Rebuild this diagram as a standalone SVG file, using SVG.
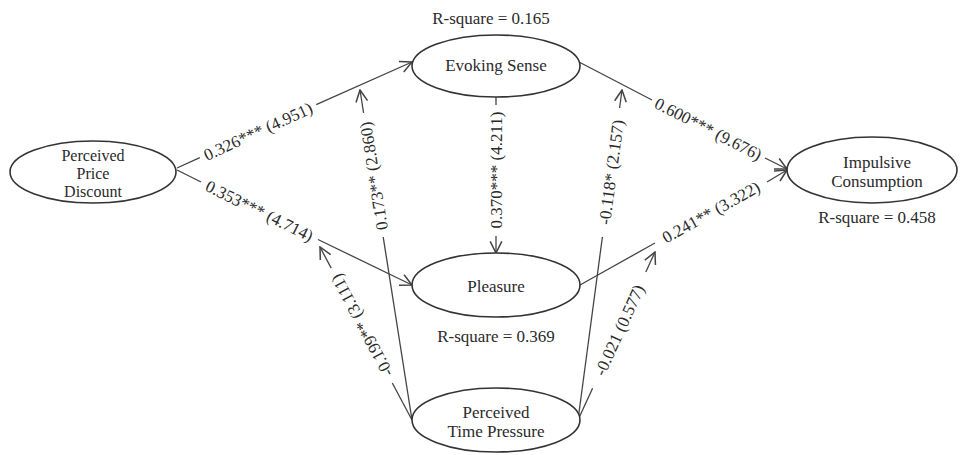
<svg xmlns="http://www.w3.org/2000/svg" width="961" height="455" viewBox="0 0 961 455">
<style>
.node ellipse{fill:#fff;stroke:#333;stroke-width:1.6}
text{font-family:"Liberation Serif","Times New Roman",serif;font-size:17px;fill:#2a2a2a;text-anchor:middle}
.conn line{stroke:#444;stroke-width:1.3;fill:none}
.lbl{font-size:17px}
.sm{font-size:16px}
</style>
<defs>
<marker id="arr" markerUnits="userSpaceOnUse" markerWidth="14" markerHeight="14" viewBox="0 0 12 12" refX="11" refY="6" orient="auto">
<path d="M1,1 L11,6 L1,11" fill="none" stroke="#444" stroke-width="1.3"/>
</marker>
</defs>
<rect width="961" height="455" fill="#fff"/>
<g id="connectors" class="conn">
<line x1="177" y1="168" x2="199.8" y2="157.7"/>
<line x1="316.2" y1="104.7" x2="412" y2="62" marker-end="url(#arr)"/>
<line x1="177" y1="170" x2="201" y2="182"/>
<line x1="318" y1="239.5" x2="412" y2="285" marker-end="url(#arr)"/>
<line x1="579" y1="62" x2="652" y2="100"/>
<line x1="765" y1="158" x2="787" y2="169" marker-end="url(#arr)"/>
<line x1="580" y1="285" x2="655" y2="243"/>
<line x1="767" y1="182" x2="787" y2="170" marker-end="url(#arr)"/>
<line x1="496" y1="97" x2="496" y2="105"/>
<line x1="496" y1="236" x2="496" y2="253" marker-end="url(#arr)"/>
<line x1="412" y1="420" x2="383.2" y2="237"/>
<line x1="363.6" y1="113" x2="360" y2="90" marker-end="url(#arr)"/>
<line x1="412" y1="420" x2="392.3" y2="383"/>
<line x1="331.2" y1="268.1" x2="320" y2="247" marker-end="url(#arr)"/>
<line x1="578" y1="420" x2="592.6" y2="388.2"/>
<line x1="645.8" y1="272" x2="655" y2="252" marker-end="url(#arr)"/>
<line x1="578" y1="420" x2="602.4" y2="237"/>
<line x1="619.6" y1="108" x2="622" y2="90" marker-end="url(#arr)"/>
<text class="lbl" transform="translate(258,131.2) rotate(-24.46)" dy="0.35em">0.326*** (4.951)</text>
<text class="lbl" transform="translate(259.5,210.7) rotate(26.27)" dy="0.35em">0.353*** (4.714)</text>
<text class="lbl" transform="translate(708.4,128.8) rotate(27.1)" dy="0.35em">0.600*** (9.676)</text>
<text class="lbl" transform="translate(711,212) rotate(-29.06)" dy="0.35em">0.241** (3.322)</text>
<text class="lbl" transform="translate(496,170) rotate(-90)" dy="0.35em">0.370*** (4.211)</text>
<text class="lbl" transform="translate(373.5,176) rotate(-99)" dy="0.35em">0.173** (2.860)</text>
<text class="lbl" transform="translate(361.8,325.5) rotate(-118)" dy="0.35em">-0.199** (3.111)</text>
<text class="lbl" transform="translate(619.2,330) rotate(-65.4)" dy="0.35em">-0.021 (0.577)</text>
<text class="lbl" transform="translate(611,172.2) rotate(-82.4)" dy="0.35em">-0.118* (2.157)</text>
</g>
<g id="node-ppd" class="node">
<ellipse cx="93" cy="172" rx="83" ry="31"/>
<text class="sm" x="93" y="161">Perceived</text>
<text class="sm" x="93" y="179">Price</text>
<text class="sm" x="93" y="197">Discount</text>
</g>
<g id="node-es" class="node">
<ellipse cx="496" cy="66" rx="84" ry="31"/>
<text x="496" y="71">Evoking Sense</text>
<text x="491" y="24">R-square = 0.165</text>
</g>
<g id="node-pl" class="node">
<ellipse cx="496" cy="285" rx="84" ry="32"/>
<text x="496" y="292">Pleasure</text>
<text x="496" y="342">R-square = 0.369</text>
</g>
<g id="node-ptp" class="node">
<ellipse cx="496" cy="420" rx="84" ry="32"/>
<text x="496" y="418">Perceived</text>
<text x="496" y="437">Time Pressure</text>
</g>
<g id="node-ic" class="node">
<ellipse cx="872" cy="170" rx="85" ry="33"/>
<text x="877" y="168">Impulsive</text>
<text x="877" y="187">Consumption</text>
<text x="877" y="223">R-square = 0.458</text>
</g>
</svg>
